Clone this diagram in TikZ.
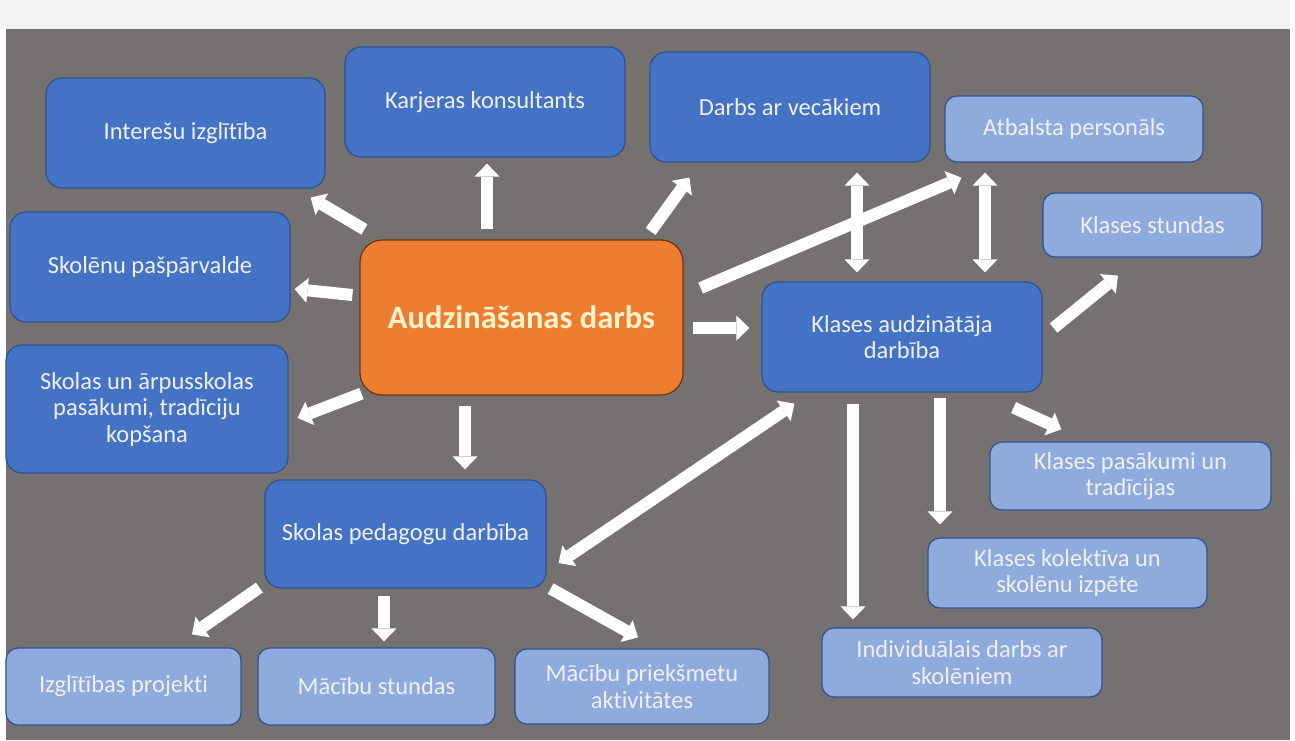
\documentclass[tikz,border=0pt]{standalone}
\usepackage{fontspec}
\setmainfont{Carlito}[Ligatures=NoCommon]
\usetikzlibrary{arrows.meta}
\definecolor{Slide}{RGB}{118,113,113}
\definecolor{Band}{RGB}{244,244,244}
\definecolor{Accent-1}{RGB}{68,114,196}
\definecolor{Accent-1-light}{RGB}{143,170,220}
\definecolor{Accent-1-dark}{RGB}{47,82,143}
\definecolor{Accent-2}{RGB}{237,125,49}
\definecolor{Accent-2-dark}{RGB}{110,50,15}
\definecolor{Cream}{RGB}{255,242,204}
\definecolor{Label}{RGB}{238,240,245}
\tikzset{ dark/.style ={draw=Accent-1-dark, fill=Accent-1,       rounded corners=16pt, line width=1.2pt, text=Label, align=center, font=\fontsize{24.5}{26.5}\selectfont} }
\tikzset{ light/.style={draw=Accent-1-dark, fill=Accent-1-light, rounded corners=12pt, line width=1.2pt, text=Label, align=center, font=\fontsize{24.5}{26.5}\selectfont} }
\tikzset{ hub/.style  ={draw=Accent-2-dark, fill=Accent-2,       rounded corners=22pt, line width=1.2pt, text=Cream, font=\fontsize{32.5}{36}\selectfont\bfseries} }
\tikzset{ blk/.style  ={draw=white, line width=12pt, -{Triangle[width=25pt,length=13pt,line width=0pt]}} }
\tikzset{ dbl/.style  ={draw=white, line width=12pt, {Triangle[width=25pt,length=13pt,line width=0pt]}-{Triangle[width=25pt,length=13pt,line width=0pt]}} }

\begin{document}
\begin{tikzpicture}[x=1pt,y=-1pt]
    \useasboundingbox (0,0) rectangle (1295,740);
    \fill[white] (0,0) rectangle (1295,740);
    \fill[Band]  (0,0) rectangle (1290,29);
    \fill[Slide] (6,29) rectangle (1290,740);

    \node[hub, minimum width=323pt, minimum height=155pt] (cen) at (521.5,317.5) {Audzināšanas darbs};

    \node[dark, minimum width=279pt, minimum height=110pt] (inter) at ( 185.5, 133.0) {Interešu izglītība};
    \node[dark, minimum width=280pt, minimum height=110pt] (karj)  at ( 485.0, 102.0) {Karjeras konsultants};
    \node[dark, minimum width=280pt, minimum height=110pt] (vecak) at ( 790.0, 107.0) {Darbs ar vecākiem};
    \node[dark, minimum width=280pt, minimum height=110pt] (pasp)  at ( 150.0, 267.0) {Skolēnu pašpārvalde};
    \node[dark, minimum width=282pt, minimum height=128pt] (skpas) at ( 147.0, 409.0) {Skolas un ārpusskolas\\pasākumi, tradīciju\\kopšana};
    \node[dark, minimum width=280pt, minimum height=110pt] (kaud)  at ( 902.0, 337.0) {Klases audzinātāja\\darbība};
    \node[dark, minimum width=281pt, minimum height=108pt] (ped)   at ( 405.5, 534.0) {Skolas pedagogu darbība};

    \node[light, minimum width=258pt, minimum height=66pt] (atbal)  at (1074.0, 129.0) {Atbalsta personāls};
    \node[light, minimum width=219pt, minimum height=64pt] (kstund) at (1152.5, 225.0) {Klases stundas};
    \node[light, minimum width=281pt, minimum height=68pt] (kpas)   at (1130.5, 476.0) {Klases pasākumi un\\tradīcijas};
    \node[light, minimum width=279pt, minimum height=70pt] (kkol)   at (1067.5, 573.0) {Klases kolektīva un\\skolēnu izpēte};
    \node[light, minimum width=280pt, minimum height=69pt] (indiv)  at ( 962.0, 662.5) {Individuālais darbs ar\\skolēniem};
    \node[light, minimum width=235pt, minimum height=77pt] (proj)   at ( 123.5, 686.5) {Izglītības projekti};
    \node[light, minimum width=237pt, minimum height=77pt] (mstund) at ( 376.5, 686.5) {Mācību stundas};
    \node[light, minimum width=254pt, minimum height=75pt] (mpriek) at ( 642.0, 686.5) {Mācību priekšmetu\\aktivitātes};

    % from the hub
    \draw[blk] ([shift={(5,-10)}]cen.north west)   -- ([shift={(-15,9)}]inter.south east);
    \draw[blk] ([shift={(-34.5,-10)}]cen.north)    -- ([shift={(2,6)}]karj.south);
    \draw[blk] ([shift={(-33,-8)}]cen.north east)  -- ([shift={(40,15)}]vecak.south west);
    \draw[blk] ([shift={(17,-29.5)}]cen.east)      -- ([shift={(17,15)}]atbal.south west);
    \draw[blk] ([shift={(-7,-22.5)}]cen.west)      -- ([shift={(4,22)}]pasp.east);
    \draw[blk] ([shift={(9,10.5)}]cen.east)        -- ([shift={(-12,-9)}]kaud.west);
    \draw[blk] ([shift={(2,-2)}]cen.south west)    -- ([shift={(9,9)}]skpas.east);
    \draw[blk] ([shift={(-56.5,10)}]cen.south)     -- ([shift={(59.5,-10)}]ped.north);

    % class teacher
    \draw[dbl] ([shift={(67,10)}]vecak.south)      -- ([shift={(-45,-9)}]kaud.north);
    \draw[dbl] ([shift={(-89,10)}]atbal.south)     -- ([shift={(83,-9)}]kaud.north);
    \draw[blk] ([shift={(11,-9)}]kaud.east)        -- ([shift={(-34.5,18)}]kstund.south);
    \draw[blk] ([shift={(-29,15)}]kaud.south east) -- ([shift={(72,-12)}]kpas.north west);
    \draw[blk] ([shift={(38,5)}]kaud.south)        -- ([shift={(-127.5,-13)}]kkol.north);
    \draw[blk] ([shift={(-49,11)}]kaud.south)      -- ([shift={(-109,-8)}]indiv.north);
    \draw[dbl] ([shift={(33,11)}]kaud.south west)  -- ([shift={(12,29)}]ped.east);

    % teachers
    \draw[blk] ([shift={(-5,-1)}]ped.south west)   -- ([shift={(68.5,-13)}]proj.north);
    \draw[blk] ([shift={(-21.5,7)}]ped.south)      -- ([shift={(7.5,-6)}]mstund.north);
    \draw[blk] ([shift={(4,0)}]ped.south east)     -- ([shift={(-4,-11)}]mpriek.north);
\end{tikzpicture}
\end{document}
